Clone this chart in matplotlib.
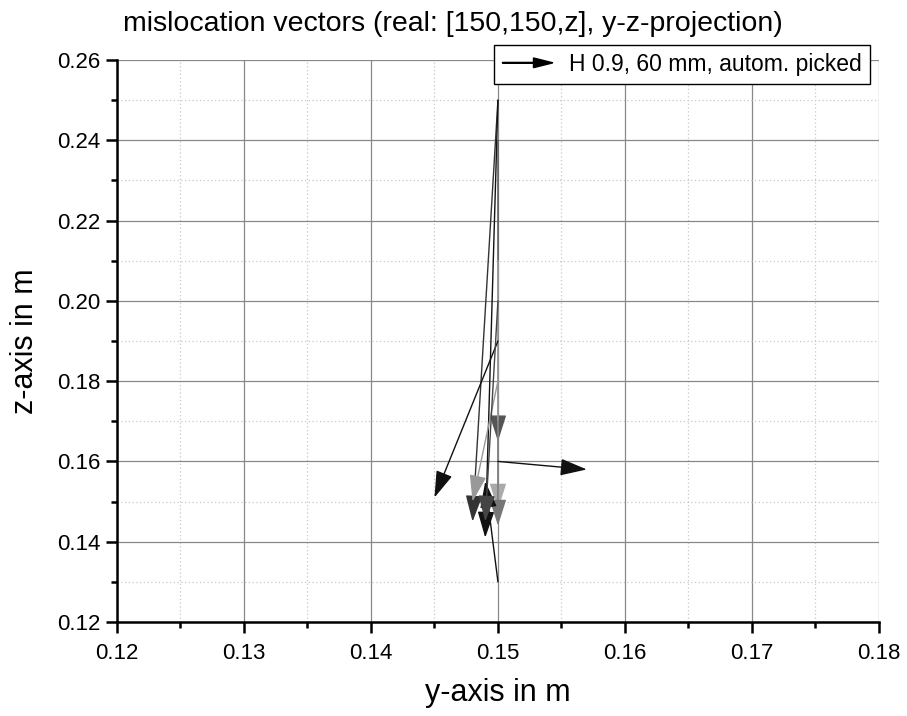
import numpy as np
import matplotlib
matplotlib.use('Agg')
import matplotlib.pyplot as plt
import matplotlib.patches as mpatches
from matplotlib.legend_handler import HandlerPatch
from matplotlib.ticker import MultipleLocator

plt.rcParams['font.family'] = ['Liberation Sans', 'DejaVu Sans']

# real positions (start) and picked positions (end), in m
y_start = [0.150, 0.150, 0.150, 0.150, 0.150, 0.150, 0.150, 0.150, 0.150, 0.150]
z_start = [0.250, 0.250, 0.240, 0.210, 0.170, 0.130, 0.160, 0.190, 0.180, 0.200]
y_end = [0.148, 0.149, 0.150, 0.150, 0.150, 0.149, 0.157, 0.145, 0.148, 0.149]
z_end = [0.145, 0.141, 0.165, 0.148, 0.144, 0.155, 0.158, 0.151, 0.150, 0.145]
colors = ['#333333', '#111111', '#555555', '#aaaaaa', '#777777',
          '#111111', '#111111', '#111111', '#999999', '#444444']

legend_label = 'H 0.9, 60 mm, autom. picked'

fig = plt.figure(figsize=(9.07, 7.16), dpi=100)
ax = fig.add_axes([0.129, 0.1313, 0.840, 0.7849])

for ys, zs, ye, ze, c in zip(y_start, z_start, y_end, z_end, colors):
    ax.annotate('', xy=(ye, ze), xytext=(ys, zs),
                arrowprops=dict(arrowstyle='-|>,head_length=1.1,head_width=0.35',
                                color=c, lw=1.0, shrinkA=0, shrinkB=0,
                                mutation_scale=15))

ax.set_xlim(0.12, 0.18)
ax.set_ylim(0.12, 0.26)
ax.xaxis.set_major_locator(MultipleLocator(0.01))
ax.xaxis.set_minor_locator(MultipleLocator(0.005))
ax.yaxis.set_major_locator(MultipleLocator(0.02))
ax.yaxis.set_minor_locator(MultipleLocator(0.01))
ax.xaxis.set_major_formatter(plt.FormatStrFormatter('%.2f'))
ax.yaxis.set_major_formatter(plt.FormatStrFormatter('%.2f'))

ax.grid(which='major', color='#888888', linestyle='-', linewidth=0.9)
ax.grid(which='minor', color='#c8c8c8', linestyle=(0, (1, 2)), linewidth=0.9)
ax.set_axisbelow(True)

for s in ['top', 'right']:
    ax.spines[s].set_visible(False)
for s in ['left', 'bottom']:
    ax.spines[s].set_linewidth(1.8)

ax.tick_params(which='major', direction='out', length=8, width=1.8, labelsize=16, pad=4)
ax.tick_params(axis='x', which='major', pad=7)
ax.tick_params(which='minor', direction='out', length=4, width=1.8)

ax.set_xlabel('y-axis in m', fontsize=22, labelpad=10)
ax.set_ylabel('z-axis in m', fontsize=22, labelpad=12)

fig.text(0.499, 0.966, 'mislocation vectors (real: [150,150,z], y-z-projection)',
         ha='center', va='center', fontsize=20.5)


def make_arrow(legend, orig_handle, xdescent, ydescent, width, height, fontsize):
    return mpatches.FancyArrow(-xdescent, height / 2 - ydescent, width, 0,
                               length_includes_head=True, head_width=7,
                               head_length=14, width=0.6, color='black')


proxy = mpatches.FancyArrow(0, 0, 1, 0, color='black')
leg = ax.legend([proxy], [legend_label], loc='upper right',
                bbox_to_anchor=(0.988, 1.027), fontsize=16.5, frameon=True,
                fancybox=False, handlelength=2.2, borderpad=0.35,
                handletextpad=0.7, borderaxespad=0,
                handler_map={mpatches.FancyArrow: HandlerPatch(patch_func=make_arrow)})
leg.get_frame().set_edgecolor('black')
leg.get_frame().set_linewidth(1.0)
leg.get_frame().set_alpha(1)

fig.savefig('out.png', dpi=100)
